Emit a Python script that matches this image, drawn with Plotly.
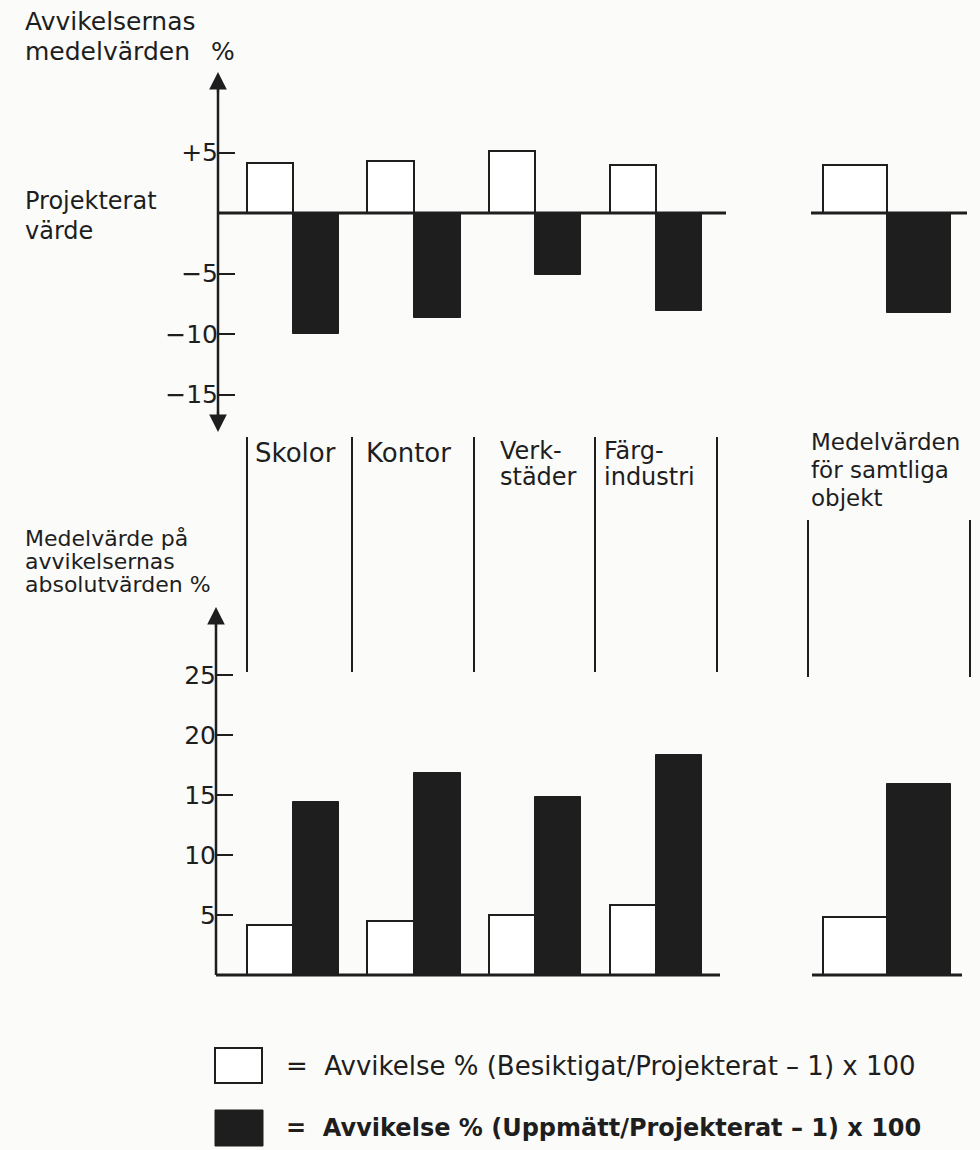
import plotly.graph_objects as go

# ---------------- data ----------------
categories = ["Skolor", "Kontor", "Verkstäder", "Färgindustri", "Medelvärden för samtliga objekt"]

# mean deviation (%) relative to projected value
dev_besiktigat = [4.1, 4.3, 5.1, 4.0, 4.0]          # white bars (inspected / projected - 1) x 100
dev_uppmatt = [-10.0, -8.7, -5.1, -8.1, -8.3]        # black bars (measured / projected - 1) x 100

# mean of absolute deviations (%)
abs_besiktigat = [4.2, 4.5, 5.0, 5.8, 4.8]
abs_uppmatt = [14.4, 16.8, 14.8, 18.3, 15.9]

top_tickvals = [5, -5, -10, -15]
top_ticktext = ["+5", "\u22125", "\u221210", "\u221215"]
bottom_tickvals = [5, 10, 15, 20, 25]
bottom_ticktext = ["5", "10", "15", "20", "25"]

# ---------------- layout helpers (positions, not data) ----------------
W, H = 980, 1150
group_center = [293, 414, 535, 656, 887]
bar_width = [46, 47, 46, 46, 64]
x_white = [c - w / 2 for c, w in zip(group_center, bar_width)]
x_black = [c + w / 2 for c, w in zip(group_center, bar_width)]

INK = "#1e1e1e"
BG = "#fbfbfa"
FONT = "DejaVu Sans"


def py(px):
    return 1 - px / H


# top panel geometry
Z1, S1, T1, B1 = 213, 12.1, 72, 432
# bottom panel geometry
Z2, S2, T2, B2 = 975, 12.0, 607, 985
AX1, AX2 = 218, 216

fig = go.Figure()

fig.add_trace(go.Bar(x=x_white, y=dev_besiktigat, width=bar_width, yaxis="y",
                     marker=dict(color="white", line=dict(color=INK, width=2)),
                     name="Besiktigat/Projekterat", showlegend=False))
fig.add_trace(go.Bar(x=x_black, y=dev_uppmatt, width=bar_width, yaxis="y",
                     marker=dict(color=INK, line=dict(color=INK, width=1)),
                     name="Uppmätt/Projekterat", showlegend=False))
fig.add_trace(go.Bar(x=x_white, y=abs_besiktigat, width=bar_width, yaxis="y2",
                     marker=dict(color="white", line=dict(color=INK, width=2)),
                     name="Besiktigat/Projekterat", showlegend=False))
fig.add_trace(go.Bar(x=x_black, y=abs_uppmatt, width=bar_width, yaxis="y2",
                     marker=dict(color=INK, line=dict(color=INK, width=1)),
                     name="Uppmätt/Projekterat", showlegend=False))

shapes = []
# axis lines
shapes.append(dict(type="line", xref="x", yref="paper", x0=AX1, x1=AX1, y0=py(T1 + 4), y1=py(B1 - 4),
                   line=dict(color=INK, width=2.5)))
shapes.append(dict(type="line", xref="x", yref="paper", x0=AX2, x1=AX2, y0=py(T2 + 4), y1=py(Z2),
                   line=dict(color=INK, width=2.5)))
# zero baselines
for x0, x1 in [(AX1, 726), (811, 967)]:
    shapes.append(dict(type="line", xref="x", yref="y", x0=x0, x1=x1, y0=0, y1=0,
                       line=dict(color=INK, width=3)))
for x0, x1 in [(AX2, 720), (812, 962)]:
    shapes.append(dict(type="line", xref="x", yref="y2", x0=x0, x1=x1, y0=0, y1=0,
                       line=dict(color=INK, width=3)))
# category separators
for xs in [247, 352, 474, 595, 717]:
    shapes.append(dict(type="line", xref="x", yref="paper", x0=xs, x1=xs, y0=py(437), y1=py(672),
                       line=dict(color=INK, width=2)))
for xs in [808, 970]:
    shapes.append(dict(type="line", xref="x", yref="paper", x0=xs, x1=xs, y0=py(520), y1=py(677),
                       line=dict(color=INK, width=2)))
# legend boxes
shapes.append(dict(type="rect", xref="paper", yref="paper", x0=215 / W, x1=262 / W, y0=py(1083), y1=py(1048),
                   fillcolor="white", line=dict(color=INK, width=2)))
shapes.append(dict(type="rect", xref="paper", yref="paper", x0=215 / W, x1=263 / W, y0=py(1146), y1=py(1110),
                   fillcolor=INK, line=dict(color=INK, width=1)))

annotations = []
# arrow heads
for xa, ypx, ay in [(AX1, T1, 22), (AX1, B1, -22), (AX2, T2, 22)]:
    annotations.append(dict(x=xa, y=py(ypx), xref="x", yref="paper", text="", showarrow=True,
                            ax=0, ay=ay, arrowhead=2, arrowsize=1.6, arrowwidth=2.2, arrowcolor=INK))


def label(text, xpx, ypx, size):
    annotations.append(dict(x=xpx / W, y=py(ypx), xref="paper", yref="paper", text=text, showarrow=False,
                            xanchor="left", yanchor="middle", borderpad=0,
                            font=dict(family=FONT, size=size, color=INK)))


label("Avvikelsernas", 24, 22, 25)
label("medelvärden", 24, 51, 25)
label("%", 210, 51, 25)
label("Projekterat", 24, 201, 24)
label("värde", 24, 231, 24)

label("Skolor", 254, 453, 26)
label("Kontor", 365, 453, 26)
label("Verk-", 499, 451, 24)
label("städer", 499, 477, 24)
label("Färg-", 603, 451, 24)
label("industri", 603, 477, 24)
label("Medelvärden", 810, 442, 23)
label("för samtliga", 810, 470, 23)
label("objekt", 810, 498, 23)

label("Medelvärde på", 24, 538, 22)
label("avvikelsernas", 24, 561, 22)
label("absolutvärden %", 24, 584, 22)

label("=  Avvikelse % (Besiktigat/Projekterat \u2013 1) x 100", 285, 1066, 26)
label("<b>=  Avvikelse % (Uppmätt/Projekterat \u2013 1) x 100</b>", 285, 1128, 24)

fig.update_layout(
    width=W, height=H,
    margin=dict(l=0, r=0, t=0, b=0),
    paper_bgcolor=BG, plot_bgcolor="rgba(0,0,0,0)",
    barmode="overlay", bargap=0,
    font=dict(family=FONT, color=INK),
    xaxis=dict(range=[0, W], domain=[0, 1], visible=False, fixedrange=True),
    yaxis=dict(domain=[py(B1), py(T1)], range=[(Z1 - B1) / S1, (Z1 - T1) / S1],
               anchor="free", position=AX1 / W, showline=False, showgrid=False, zeroline=False,
               ticks="inside", ticklen=16, tickwidth=2, tickcolor=INK,
               tickvals=top_tickvals, ticktext=top_ticktext,
               tickfont=dict(family=FONT, size=25, color=INK)),
    yaxis2=dict(domain=[py(B2), py(T2)], range=[(Z2 - B2) / S2, (Z2 - T2) / S2],
                anchor="free", position=AX2 / W, showline=False, showgrid=False, zeroline=False,
                ticks="inside", ticklen=16, tickwidth=2, tickcolor=INK,
                tickvals=bottom_tickvals, ticktext=bottom_ticktext,
                tickfont=dict(family=FONT, size=25, color=INK)),
    shapes=shapes,
    annotations=annotations,
)

fig.write_html("out.html", config={"displayModeBar": False},
               post_script="document.body.style.margin='0';document.body.style.background='#fbfbfa';")
